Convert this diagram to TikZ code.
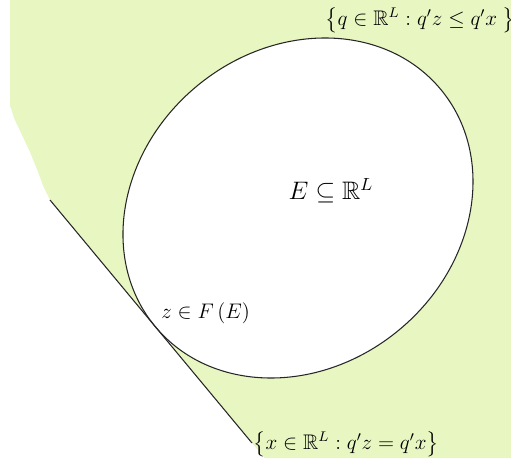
\documentclass[tikz,border=0pt]{standalone}
\usepackage{amsmath}
\usepackage{amssymb}
\usepackage{tikz}
\usetikzlibrary{positioning, calc}
\definecolor{setgreen}{RGB}{232,246,194}

\begin{document}
\begin{tikzpicture}[
  x=0.02cm, y=-0.02cm,
  halfspace/.style={fill=setgreen, draw=none},
  setedge/.style={draw=black!85, line width=0.6pt},
  setlabel/.style={inner sep=0pt, font=\large},
  biglabel/.style={inner sep=0pt, font=\Large},
]
  \useasboundingbox (0,0) rectangle (511,466);

  % Shaded half space
  \fill[halfspace] (10,0) -- (511,0) -- (511,458) -- (264.5,458) -- (50,200)
    -- (44,188) -- (38,172) -- (30,152) -- (22,135) -- (14,118) -- (11,108) -- (10,107) -- cycle;

  % The set E
  \coordinate (centre) at (298,208);
  \draw[setedge, fill=white, rotate around={39.7:(centre)}] (centre) ellipse [x radius=185.6, y radius=158.4];

  % Supporting line through z
  \coordinate (z) at (155.3,326.6);
  \coordinate (lineTop) at (50,200);
  \coordinate (lineBottom) at (252,443);
  \draw[setedge] (lineTop) -- (lineBottom);

  % Labels
  \node (setE) [biglabel] at (331,191) {$E\subseteq\mathbb{R}^L$};
  \node (zlabel) [setlabel, anchor=west] at (161,313) {$z\in F\left(E\right)$};
  \node (upper) [setlabel, anchor=west] at (325,20) {$\bigl\{q\in\mathbb{R}^L : q'z\leq q'x\;\bigr\}$};
  \node (hyper) [setlabel, anchor=west] at (253,444) {$\bigl\{x\in\mathbb{R}^L : q'z=q'x\bigr\}$};

\end{tikzpicture}
\end{document}
